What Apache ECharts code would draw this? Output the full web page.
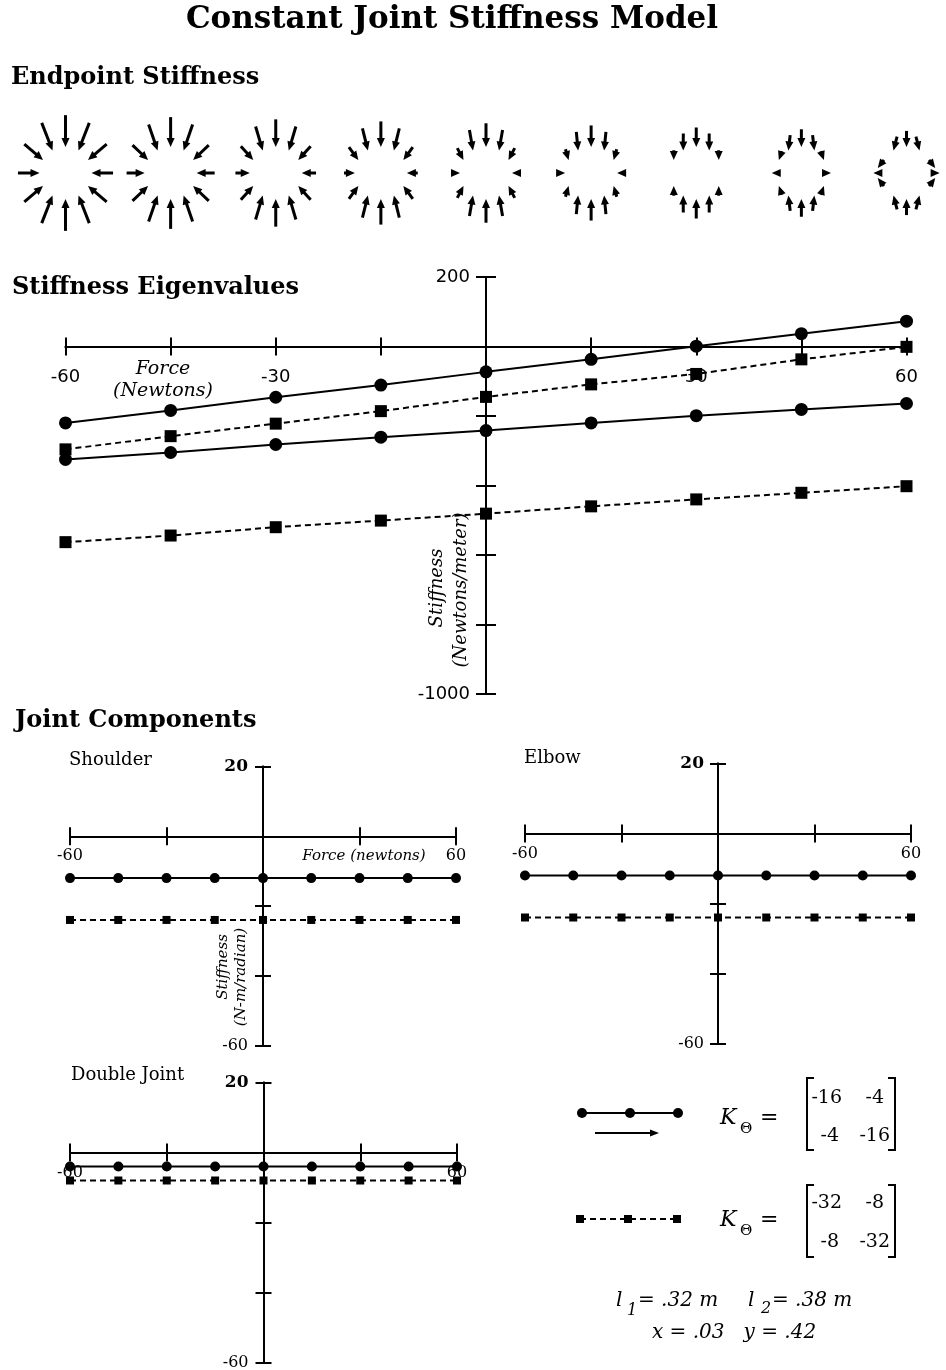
<!DOCTYPE html>
<html>
<head>
<meta charset="utf-8">
<title>Constant Joint Stiffness Model</title>
<script src="https://cdn.jsdelivr.net/npm/echarts@6/dist/echarts.min.js"></script>
<style>
  html, body { margin: 0; padding: 0; background: #fff; }
  #chart { width: 946px; height: 1370px; }
</style>
</head>
<body>
<div id="chart"></div>
<script>
// Hand force applied at the endpoint (Newtons)
const forceN = [-60, -45, -30, -15, 0, 15, 30, 45, 60];

// Endpoint stiffness eigenvalues (Newtons/meter)
const eigCircleMajor = [-220, -184, -146, -111, -73, -37, 1, 37, 73];
const eigCircleMinor = [-325, -305, -282, -261, -242, -220, -199, -181, -164];
const eigSquareMajor = [-296, -258, -222, -186, -145, -109, -79, -37, -1];
const eigSquareMinor = [-563, -544, -520, -501, -481, -460, -440, -421, -402];

// Joint stiffness components (N-m/radian)
const shoulderCircle = [-12, -12, -12, -12, -12, -12, -12, -12, -12];
const shoulderSquare = [-24, -24, -24, -24, -24, -24, -24, -24, -24];
const elbowCircle = [-12, -12, -12, -12, -12, -12, -12, -12, -12];
const elbowSquare = [-24, -24, -24, -24, -24, -24, -24, -24, -24];
const doubleCircle = [-4, -4, -4, -4, -4, -4, -4, -4, -4];
const doubleSquare = [-8, -8, -8, -8, -8, -8, -8, -8, -8];

// Tick labels that are printed
const eigenXLabels = [-60, -30, 30, 60];
const eigenYLabels = [200, -1000];
const jointXLabels = [-60, 60];
const jointYLabels = [20, -60];

// Joint stiffness matrices shown in the key
const matrixCircle = [['-16', '-4'], ['-4', '-16']];
const matrixSquare = [['-32', '-8'], ['-8', '-32']];

const INK = '#000';
const SERIF = '"DejaVu Serif", serif';
const SANS = '"DejaVu Sans", sans-serif';

// Endpoint field glyph geometry
const ARROW_COUNT = 12;
const ARROW_SCALE = 0.098;   // px per N/m
const RING = 26;             // px, radius where arrows meet
const HEAD_LEN = 9;
const HEAD_W = 4;

// Panels: grid box, axis ranges, tick spacing, label styling
const panels = [
  { box: { left: 65.5, width: 841, top: 141, height: 64 }, x: [-60, 60, 15], y: [-1, 1, 1], visible: false,
    xLabels: [], yLabels: [], xFont: [SANS, 18], yFont: [SANS, 18], xMargin: 20, yMargin: 15, xTick: 9, yTick: 9 },
  { box: { left: 65.5, width: 841, top: 277, height: 417 }, x: [-60, 60, 15], y: [-1000, 200, 200], visible: true,
    xLabels: eigenXLabels, yLabels: eigenYLabels, xFont: [SANS, 18], yFont: [SANS, 18], xMargin: 22, yMargin: 16, xTick: 9, yTick: 10 },
  { box: { left: 70, width: 386, top: 766.5, height: 279 }, x: [-60, 60, 30], y: [-60, 20, 20], visible: true,
    xLabels: jointXLabels, yLabels: jointYLabels, xFont: [SERIF, 16], yFont: [SERIF, 16], xMargin: 12, yMargin: 15, xTick: 9, yTick: 8, boldTop: true },
  { box: { left: 525, width: 386, top: 763.5, height: 280 }, x: [-60, 60, 30], y: [-60, 20, 20], visible: true,
    xLabels: jointXLabels, yLabels: jointYLabels, xFont: [SERIF, 16], yFont: [SERIF, 16], xMargin: 12, yMargin: 14, xTick: 9, yTick: 8, boldTop: true },
  { box: { left: 70, width: 387, top: 1082.5, height: 280 }, x: [-60, 60, 30], y: [-60, 20, 20], visible: true,
    xLabels: jointXLabels, yLabels: jointYLabels, xFont: [SERIF, 16], yFont: [SERIF, 16], xMargin: 12, yMargin: 15, xTick: 9, yTick: 8, boldTop: true }
];

function axisLineStyle() { return { color: INK, width: 2 }; }

// Axes cross at zero. Tick labels are anchored at the grid edge by the library,
// so the margin is shifted by the distance from that edge to the zero line.
function buildAxes(p, gridIndex) {
  const xr = p.x, yr = p.y;
  const zeroFromBottom = p.box.height * (0 - yr[0]) / (yr[1] - yr[0]);
  const zeroFromLeft = p.box.width * (0 - xr[0]) / (xr[1] - xr[0]);
  const common = (min, max, interval, position, tickLen, labels, font, margin, withLabels, boldTop) => ({
    type: 'value', gridIndex, position, min, max, interval,
    show: p.visible,
    splitLine: { show: false },
    axisLine: { show: true, onZero: true, lineStyle: axisLineStyle() },
    axisTick: { show: true, length: tickLen, lineStyle: axisLineStyle() },
    axisLabel: withLabels ? {
      show: true, margin, color: INK, fontFamily: font[0], fontSize: font[1],
      rich: {
        b: { fontFamily: font[0], fontSize: font[1] + 1, fontWeight: 'bold', color: INK },
        r: { fontFamily: font[0], fontSize: font[1], color: INK }
      },
      formatter: v => {
        if (labels.indexOf(v) < 0) return '';
        return (boldTop && v === max ? '{b|' : '{r|') + v + '}';
      }
    } : { show: false }
  });
  return {
    x: [
      common(xr[0], xr[1], xr[2], 'bottom', p.xTick, p.xLabels, p.xFont, p.xMargin - zeroFromBottom, true, false),
      common(xr[0], xr[1], xr[2], 'top', p.xTick, [], p.xFont, 0, false, false)
    ],
    y: [
      common(yr[0], yr[1], yr[2], 'left', p.yTick, p.yLabels, p.yFont, p.yMargin - zeroFromLeft, true, p.boldTop),
      common(yr[0], yr[1], yr[2], 'right', p.yTick, [], p.yFont, 0, false, false)
    ]
  };
}

const grids = panels.map(p => Object.assign({ outerBoundsMode: 'none', containLabel: false }, p.box));
const xAxes = [], yAxes = [];
panels.forEach((p, i) => {
  const a = buildAxes(p, i);
  xAxes.push(...a.x);
  yAxes.push(...a.y);
});

function pts(xs, ys) { return xs.map((x, i) => [x, ys[i]]); }

function curve(panel, ys, kind, size) {
  return {
    type: 'line',
    xAxisIndex: panel * 2, yAxisIndex: panel * 2,
    data: pts(forceN, ys),
    symbol: kind === 'circle' ? 'circle' : 'rect',
    symbolSize: size,
    showSymbol: true,
    itemStyle: { color: INK },
    lineStyle: { color: INK, width: 2, type: kind === 'circle' ? 'solid' : [6, 4] },
    emphasis: { disabled: true },
    animation: false,
    z: 3
  };
}

// Force field around the hand for each load: arrows on a ring
function renderField(params, api) {
  const c = api.coord([api.value(0), 0]);
  const kx = api.value(1), ky = api.value(2);
  const children = [];
  for (let i = 0; i < ARROW_COUNT; i++) {
    const a = i * 2 * Math.PI / ARROW_COUNT;
    const dx = Math.cos(a), dy = Math.sin(a);
    const fx = kx * dx * ARROW_SCALE, fy = ky * dy * ARROW_SCALE;
    const len = Math.hypot(fx, fy);
    if (len < 0.5) continue;
    const inward = fx * dx + fy * dy < 0;
    const bx = RING * dx, by = RING * dy;
    const tail = inward ? [bx - fx, by - fy] : [bx, by];
    const head = inward ? [bx, by] : [bx + fx, by + fy];
    const T = [c[0] + tail[0], c[1] - tail[1]];
    const H = [c[0] + head[0], c[1] - head[1]];
    const ux = (H[0] - T[0]) / len, uy = (H[1] - T[1]) / len;
    const hb = [H[0] - ux * HEAD_LEN, H[1] - uy * HEAD_LEN];
    if (len > HEAD_LEN) {
      children.push({ type: 'line', shape: { x1: T[0], y1: T[1], x2: hb[0] + ux, y2: hb[1] + uy },
        style: { stroke: INK, lineWidth: 3 } });
    }
    children.push({ type: 'polygon', shape: { points: [H,
      [hb[0] - uy * HEAD_W, hb[1] + ux * HEAD_W],
      [hb[0] + uy * HEAD_W, hb[1] - ux * HEAD_W]] },
      style: { fill: INK } });
  }
  return { type: 'group', children };
}

const series = [
  {
    type: 'custom', xAxisIndex: 0, yAxisIndex: 0,
    data: forceN.map((f, i) => [f, eigCircleMajor[i], eigCircleMinor[i]]),
    encode: { x: 0 },
    renderItem: renderField,
    animation: false, silent: true
  },
  curve(1, eigCircleMajor, 'circle', 13),
  curve(1, eigSquareMajor, 'square', 12),
  curve(1, eigCircleMinor, 'circle', 13),
  curve(1, eigSquareMinor, 'square', 12),
  curve(2, shoulderCircle, 'circle', 10),
  curve(2, shoulderSquare, 'square', 8),
  curve(3, elbowCircle, 'circle', 10),
  curve(3, elbowSquare, 'square', 8),
  curve(4, doubleCircle, 'circle', 10),
  curve(4, doubleSquare, 'square', 8)
];

// ---- text and key ----
function txt(text, x, y, font, align, rotation) {
  return {
    type: 'text', x, y, rotation: rotation || 0, silent: true,
    style: { text, font, fill: INK, align: align || 'left', verticalAlign: 'middle',
      textAlign: align || 'left', textVerticalAlign: 'middle' }
  };
}

const headFont = 'bold 24px ' + SERIF;
const subFont = '18px ' + SERIF;
const texts = [
  txt('Constant Joint Stiffness Model', 452, 20, 'bold 31px ' + SERIF, 'center'),
  txt('Endpoint Stiffness', 11, 78, headFont),
  txt('Stiffness Eigenvalues', 12, 288, headFont),
  txt('Joint Components', 15, 721, headFont),
  txt('Shoulder', 69, 760, subFont),
  txt('Elbow', 524, 758, subFont),
  txt('Double Joint', 71, 1075, subFont),
  // eigenvalue axis titles
  txt('Force', 163, 369, 'italic 19px ' + SERIF, 'center'),
  txt('(Newtons)', 163, 391, 'italic 19px ' + SERIF, 'center'),
  txt('Stiffness', 437, 588, 'italic 18px ' + SERIF, 'center', Math.PI / 2),
  txt('(Newtons/meter)', 461, 590, 'italic 18px ' + SERIF, 'center', Math.PI / 2),
  // joint axis titles
  txt('Force (newtons)', 364, 856, 'italic 15px ' + SERIF, 'center'),
  txt('Stiffness', 223, 967, 'italic 15px ' + SERIF, 'center', Math.PI / 2),
  txt('(N-m/radian)', 241, 977, 'italic 15px ' + SERIF, 'center', Math.PI / 2)
];

// key: sample lines
function keySample(y, dashed, marker, xs) {
  const els = [{
    type: 'polyline', silent: true,
    shape: { points: [[xs[0], y], [xs[2], y]] },
    style: { stroke: INK, lineWidth: 2, lineDash: dashed ? [6, 4] : null, fill: null }
  }];
  xs.forEach(x => {
    if (marker === 'circle') {
      els.push({ type: 'circle', silent: true, shape: { cx: x, cy: y, r: 5 }, style: { fill: INK } });
    } else {
      els.push({ type: 'rect', silent: true, shape: { x: x - 4, y: y - 4, width: 8, height: 8 }, style: { fill: INK } });
    }
  });
  return els;
}

function bracketMatrix(m, left, right, top, bottom, rowY) {
  const els = [
    { type: 'polyline', silent: true, shape: { points: [[left + 7, top], [left, top], [left, bottom], [left + 7, bottom]] },
      style: { stroke: INK, lineWidth: 2, fill: null } },
    { type: 'polyline', silent: true, shape: { points: [[right - 7, top], [right, top], [right, bottom], [right - 7, bottom]] },
      style: { stroke: INK, lineWidth: 2, fill: null } }
  ];
  const colRight = [[842, 884], [839, 890]];
  m.forEach((row, r) => row.forEach((v, c) => {
    els.push(txt(v, colRight[r][c], rowY[r], '19px ' + SERIF, 'right'));
  }));
  return els;
}

function kLabel(y) {
  return [
    txt('K', 720, y, 'italic 22px ' + SERIF),
    txt('\u0398', 740, y + 11, '15px ' + SERIF),
    txt('=', 760, y, '22px ' + SERIF)
  ];
}

const key = [].concat(
  keySample(1113, false, 'circle', [582, 630, 678]),
  [
    { type: 'line', silent: true, shape: { x1: 595, y1: 1133, x2: 651, y2: 1133 }, style: { stroke: INK, lineWidth: 2 } },
    { type: 'polygon', silent: true, shape: { points: [[659, 1133], [650, 1129.5], [650, 1136.5]] }, style: { fill: INK } }
  ],
  keySample(1219, true, 'square', [580, 628, 677]),
  kLabel(1118),
  kLabel(1220),
  bracketMatrix(matrixCircle, 807, 895, 1078, 1150, [1098, 1136]),
  bracketMatrix(matrixSquare, 807, 895, 1185, 1257, [1203, 1242]),
  [
    txt('l', 616, 1301, 'italic 20px ' + SERIF),
    txt('1', 627, 1311, 'italic 16px ' + SERIF),
    txt('= .32 m', 638, 1301, 'italic 20px ' + SERIF),
    txt('l', 748, 1301, 'italic 20px ' + SERIF),
    txt('2', 761, 1309, 'italic 16px ' + SERIF),
    txt('= .38 m', 772, 1301, 'italic 20px ' + SERIF),
    txt('x = .03   y = .42', 734, 1333, 'italic 20px ' + SERIF, 'center')
  ]
);

const chart = echarts.init(document.getElementById('chart'), null, { renderer: 'canvas' });
chart.setOption({
  backgroundColor: '#fff',
  animation: false,
  grid: grids,
  xAxis: xAxes,
  yAxis: yAxes,
  series,
  graphic: { elements: texts.concat(key) }
});
</script>
</body>
</html>
